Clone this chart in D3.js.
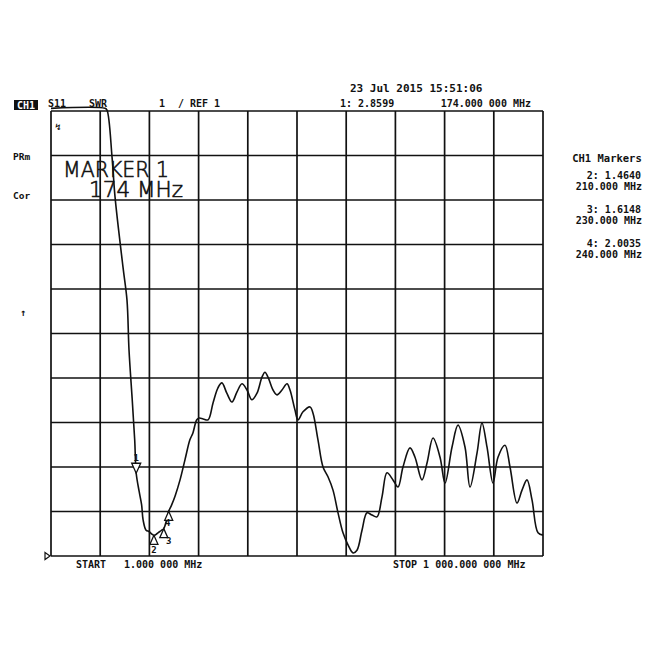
<!DOCTYPE html>
<html><head><meta charset="utf-8">
<script src="https://cdn.jsdelivr.net/npm/d3@7"></script>
<style>
html,body{margin:0;padding:0;background:#fff;}
svg text{font-family:"DejaVu Sans Mono",monospace;font-weight:bold;fill:#111;}
</style></head>
<body><svg id="c" width="650" height="650"></svg>
<script>
// ---- data ----
const startMHz = 1, stopMHz = 1000;
const refValue = 1, scalePerDiv = 1, divisions = 10;
const freqMHz = [1,110.6,114.7,124.9,131,147.2,155.3,159.4,166,171,174,180,185,188,194,200,205,210,216,222,226,230,235,240,246,253,263,273,283,289,297,302,310,320,330,340,348,358,368.5,378.7,388.8,399,409,419.3,429.4,435.5,441.6,451.8,459.9,470,480.2,486.3,496.4,502.5,512.7,526.9,533,543.1,553.3,563.4,573.6,583.8,593.9,604.1,614.2,622.3,632.5,642.6,652.8,662.9,673.1,683.2,695.4,705.6,715.7,729.9,740.1,754.3,764.5,776.7,790.9,801.1,815.3,827.4,841.6,851.8,866,876.1,886.3,898.5,908.6,922.8,933,947.2,957.4,967.5,977.7,989.9,1000];
const swr = [11.06,11.06,11.02,9.97,9.07,7.49,6.75,5.63,4.5,3.6,2.86,2.45,2.15,1.81,1.58,1.55,1.5,1.464,1.5,1.55,1.58,1.615,1.78,2.0035,2.15,2.35,2.71,3.16,3.61,3.76,4.06,4.1,4.08,4.06,4.44,4.78,4.89,4.66,4.46,4.69,4.87,4.73,4.51,4.66,5.02,5.13,5.02,4.73,4.62,4.73,4.87,4.73,4.28,4.06,4.24,4.35,4.21,3.61,3.0,2.78,2.48,1.97,1.52,1.25,1.07,1.13,1.58,1.97,1.92,1.88,2.33,2.87,2.71,2.55,3.0,3.43,3.22,2.71,3.09,3.65,3.22,2.64,3.45,3.94,3.45,2.55,3.31,3.99,3.45,2.64,3.22,3.49,3.0,2.19,2.48,2.71,2.26,1.52,1.47];
const markerIds = ["1","2","3","4"];
const markerFreq = [174,210,230,240];
const markerSwr = [2.8599,1.4640,1.6148,2.0035];
const markerFreqText = ["174.000 000 MHz","210.000 MHz","230.000 MHz","240.000 MHz"];

// ---- layout ----
const L = 51, R = 543, T = 111, B = 556;
const svg = d3.select("#c");
const x = d3.scaleLinear().domain([startMHz, stopMHz]).range([L, R]);
const y = d3.scaleLinear().domain([refValue, refValue + scalePerDiv*divisions]).range([B, T]);

// grid
const xt = d3.range(divisions+1).map(i => startMHz + i*(stopMHz-startMHz)/divisions);
const yt = d3.range(divisions+1).map(i => refValue + i*scalePerDiv);
const g = svg.append("g").attr("stroke","#111").attr("stroke-width",1.7);
g.selectAll("line.v").data(xt).join("line").attr("x1",d=>x(d)).attr("x2",d=>x(d)).attr("y1",T).attr("y2",B);
g.selectAll("line.h").data(yt).join("line").attr("y1",d=>y(d)).attr("y2",d=>y(d)).attr("x1",L).attr("x2",R);

// trace
const pts = freqMHz.map((f,i)=>[f, swr[i]]);
svg.append("path").datum(pts)
  .attr("d", d3.line().x(d=>x(d[0])).y(d=>y(d[1])).curve(d3.curveCatmullRom.alpha(0.5)))
  .attr("fill","none").attr("stroke","#111").attr("stroke-width",1.6).attr("stroke-linejoin","round");

// reference marker at left
svg.append("path").attr("d", `M${L-6},${y(refValue)-3.5} L${L-1},${y(refValue)} L${L-6},${y(refValue)+3.5} Z`)
  .attr("fill","#fff").attr("stroke","#111").attr("stroke-width",1.2);

// markers
markerIds.forEach((id,i)=>{
  const mx = x(markerFreq[i]), my = y(markerSwr[i]);
  if (i===0) {
    svg.append("path").attr("d",`M${mx},${my} L${mx-4.5},${my-10} L${mx+4.5},${my-10} Z`)
      .attr("fill","#fff").attr("stroke","#111").attr("stroke-width",1.3);
    svg.append("text").attr("x",mx).attr("y",my-12).attr("text-anchor","middle").attr("font-size",9).text(id);
  } else {
    svg.append("path").attr("d",`M${mx},${my} L${mx-4},${my+9} L${mx+4},${my+9} Z`)
      .attr("fill","#fff").attr("stroke","#111").attr("stroke-width",1.3);
    const off = [[0,0],[0,18],[5,15],[-1,15]][i];
    svg.append("text").attr("x",mx+off[0]).attr("y",my+off[1]).attr("text-anchor","middle").attr("font-size",9).text(id);
  }
});

// header texts
svg.append("rect").attr("x",14).attr("y",100).attr("width",24).attr("height",10).attr("fill","#111");
svg.append("text").attr("x",26).attr("y",108.5).attr("text-anchor","middle").attr("font-size",10).style("fill","#fff").text("CH1");
svg.append("text").attr("x",48).attr("y",107).attr("font-size",10).text("S11");
svg.append("text").attr("x",89).attr("y",107).attr("font-size",10).text("SWR");
svg.append("text").attr("x",159).attr("y",107).attr("font-size",10).text("1");
svg.append("text").attr("x",178).attr("y",107).attr("font-size",10).text("/ REF 1");
svg.append("text").attr("x",350).attr("y",92).attr("font-size",11).text("23 Jul 2015  15:51:06");
svg.append("text").attr("x",340).attr("y",107).attr("font-size",10).text("1: " + markerSwr[0].toFixed(4));
svg.append("text").attr("x",531).attr("y",107).attr("text-anchor","end").attr("font-size",10).text(markerFreqText[0]);
svg.append("text").attr("x",13).attr("y",160).attr("font-size",9.5).text("PRm");
svg.append("text").attr("x",13).attr("y",199).attr("font-size",9.5).text("Cor");
svg.append("text").attr("x",23).attr("y",316).attr("text-anchor","middle").attr("font-size",10).text("↑");
svg.append("text").attr("x",58).attr("y",130).attr("text-anchor","middle").attr("font-size",9).text("↯");

// big marker annotation
svg.append("text").attr("x",63).attr("y",177).attr("font-size",21).attr("textLength",106).attr("lengthAdjust","spacingAndGlyphs")
  .style("font-family","'DejaVu Sans', sans-serif").style("font-weight","200")
  .style("stroke","#111").style("stroke-width",0.6).text("MARKER 1");
svg.append("text").attr("x",89).attr("y",197).attr("font-size",21).attr("textLength",94).attr("lengthAdjust","spacingAndGlyphs")
  .style("font-family","'DejaVu Sans', sans-serif").style("font-weight","200")
  .style("stroke","#111").style("stroke-width",0.6).text("174 MHz");

// right marker list
svg.append("text").attr("x",607).attr("y",162).attr("text-anchor","middle").attr("font-size",10.5).text("CH1 Markers");
const rowsY = [[179,190],[213,224],[247,258]];
[1,2,3].forEach((i,k)=>{
  svg.append("text").attr("x",641).attr("y",rowsY[k][0]).attr("text-anchor","end").attr("font-size",10).text(markerIds[i]+": "+markerSwr[i].toFixed(4));
  svg.append("text").attr("x",642).attr("y",rowsY[k][1]).attr("text-anchor","end").attr("font-size",10).text(markerFreqText[i]);
});

// bottom
svg.append("text").attr("x",76).attr("y",568).attr("font-size",10).text("START");
svg.append("text").attr("x",124).attr("y",568).attr("font-size",10).text("1.000 000 MHz");
svg.append("text").attr("x",393).attr("y",568).attr("font-size",10).text("STOP 1 000.000 000 MHz");
</script></body></html>
